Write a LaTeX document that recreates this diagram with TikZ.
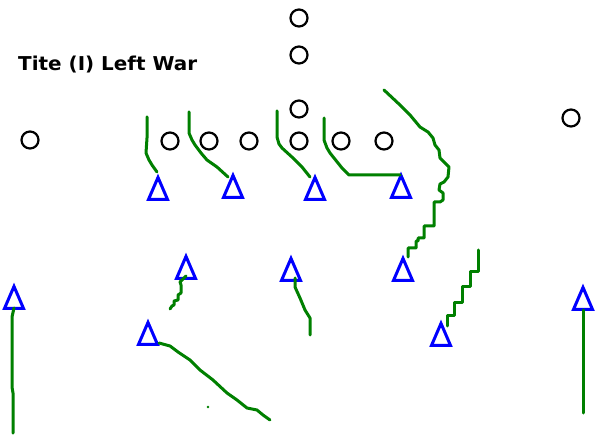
\documentclass[tikz,border=0pt]{standalone}
\usepackage{fontspec}
\setmainfont{DejaVu Sans}
\usetikzlibrary{shapes.geometric}
\begin{document}
\begin{tikzpicture}[x=1pt,y=-1pt,
  player/.style={circle,draw=black,line width=2.2pt,minimum size=17pt,inner sep=0pt},
  defender/.style={isosceles triangle,isosceles triangle stretches,shape border rotate=90,
    draw=blue,line width=3pt,minimum height=22pt,minimum width=19pt,inner sep=0pt,anchor=apex},
  route/.style={draw=green!50!black,line width=3pt,line join=round,line cap=round},
  title/.style={anchor=base west,inner sep=0pt,font=\bfseries}]
\useasboundingbox[fill=white] (0,0) rectangle (597,435);
% title
\node[title] (title) at (18,71) {\resizebox{179pt}{14.5pt}{Tite (I) Left War}};
% offense (circles)
\node[player] (o1) at (299,18) {};
\node[player] (o2) at (299,55) {};
\node[player] (o3) at (299,109) {};
\node[player] (o4) at (299,141) {};
\node[player] (o5) at (30,140) {};
\node[player] (o6) at (170,141) {};
\node[player] (o7) at (209,141) {};
\node[player] (o8) at (249,141) {};
\node[player] (o9) at (341,141) {};
\node[player] (o10) at (384,141) {};
\node[player] (o11) at (571,118) {};
% defense (triangles)
\node[defender] (t1) at (158,173.5) {};
\node[defender] (t2) at (233,171.5) {};
\node[defender] (t3) at (315,173.5) {};
\node[defender] (t4) at (401,171.5) {};
\node[defender] (t5) at (186,252.5) {};
\node[defender] (t6) at (291,254.5) {};
\node[defender] (t7) at (148,318.5) {};
\node[defender] (t8) at (403,254.5) {};
\node[defender] (t9) at (441,319.5) {};
\node[defender] (t10) at (14,282.5) {};
\node[defender] (t11) at (583,283.5) {};
% routes
\draw[route] (147,117) -- (147,138) -- (146,153) -- (149,160) -- (152,165) -- (157,172);
\draw[route] (189,112) -- (189,133) -- (192,140) -- (195,145) -- (201,153) -- (207,160) -- (217,167) -- (228,177);
\draw[route] (277,111) -- (277,137) -- (279,144) -- (282,148) -- (293,158) -- (302,167) -- (310,177);
\draw[route] (324,118) -- (324,140) -- (327,148) -- (330,153) -- (342,168) -- (349,175) -- (400,175);
\draw[route] (384,90) -- (400,105) -- (410,115) -- (420,127) -- (428,132) -- (433,138) -- (435,145) -- (439,150) -- (440,158) -- (445,163) -- (449,167) -- (448,177) -- (444,182) -- (440,184) -- (439,190) -- (443,193) -- (443,200) -- (440,202) -- (434,202) -- (434,226) -- (424,226) -- (424,238) -- (418,238) -- (418,241) -- (416,241) -- (416,248) -- (408,248) -- (408,257);
\draw[route] (478,250) -- (478,272) -- (470,272) -- (470,287) -- (462,287) -- (462,303) -- (454,303) -- (454,316) -- (447,316) -- (447,326);
\draw[route] (186,276) -- (180,282) -- (181,285) -- (181,293) -- (178,295) -- (178,300) -- (174,301) -- (174,305) -- (172,306) -- (170,309);
\draw[route] (295,278) -- (295,287) -- (300,298) -- (305,310) -- (310,318) -- (310,335);
\draw[route] (159,343) -- (170,346) -- (178,352) -- (190,360) -- (200,370) -- (213,380) -- (227,393) -- (237,400) -- (247,408) -- (257,410) -- (263,415) -- (270,420);
\draw[route] (14,308) -- (12,317) -- (12,387) -- (13,393) -- (13,433);
\draw[route] (583,310) -- (583,413);
\node[circle,fill=green!50!black,inner sep=0pt,minimum size=2.8pt] (dot) at (208,407) {};
\end{tikzpicture}
\end{document}
